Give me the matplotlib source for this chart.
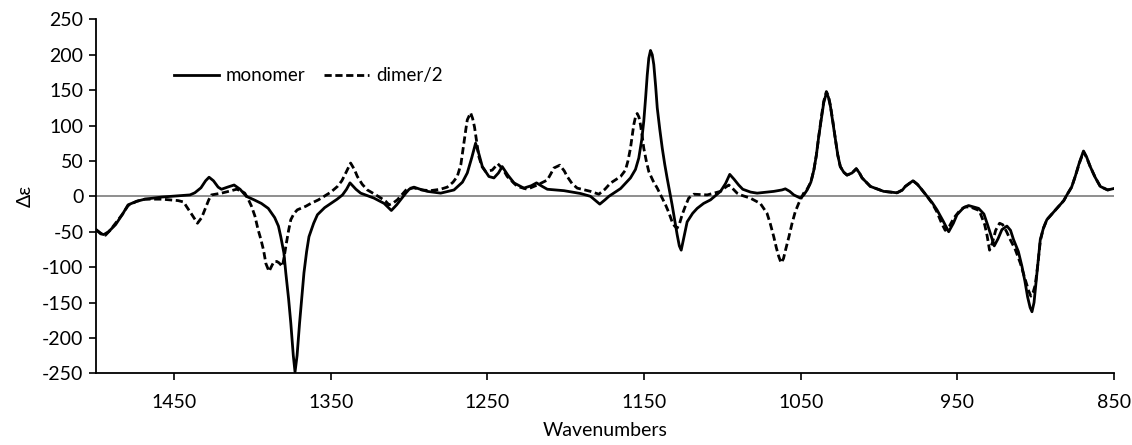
import matplotlib.pyplot as plt
from matplotlib.lines import Line2D

# monomer spectrum (wavenumber, delta epsilon)
mono_x = [1500, 1497, 1495, 1492, 1487.5, 1483, 1479.5, 1474, 1468.8, 1458, 1447.6, 1440, 1436.9, 1433, 1430,
          1427.8, 1425, 1422, 1419.9, 1416, 1411.8, 1408, 1404, 1399, 1394.4, 1390, 1385.9, 1383.5, 1382, 1380,
          1378.8, 1377, 1375.6, 1374, 1372.9, 1371.6, 1370, 1368.5, 1367.2, 1365.5, 1364, 1361, 1358.6, 1354,
          1350, 1346, 1342.6, 1340, 1337.8, 1334, 1331, 1322.5, 1316, 1311.4, 1308, 1305.5, 1302, 1300, 1297,
          1293, 1288.4, 1279.9, 1271.4, 1266, 1262.9, 1260, 1257.6, 1255.5, 1253.3, 1249.1, 1245.9, 1243, 1240.6,
          1237, 1233.1, 1226.8, 1222, 1218.7, 1215, 1211.8, 1201.2, 1190.6, 1184.2, 1181, 1178.3, 1175, 1172.5,
          1165, 1158.7, 1155.5, 1153.4, 1151.5, 1150.2, 1149, 1148, 1147, 1145.9, 1144.8, 1143.8, 1142.6, 1141.6,
          1140, 1138.4, 1136.8, 1135.3, 1133.7, 1132.1, 1130.5, 1128.9, 1127.5, 1126.3, 1124.8, 1122.5, 1119,
          1116.1, 1112, 1107.6, 1101.2, 1098, 1095.3, 1092.5, 1089.6, 1087, 1082, 1077.8, 1067.2, 1062, 1059.8,
          1057, 1054.4, 1050.2, 1048, 1045.9, 1043.5, 1041.6, 1040, 1038.5, 1036.8, 1035.3, 1033.6, 1032.3, 1031,
          1029.4, 1027.8, 1026.3, 1024.7, 1022.5, 1020.4, 1017.2, 1014.5, 1012.5, 1010.8, 1005.5, 997, 988.5, 985,
          983.2, 978.3, 975.5, 973.6, 969.3, 966, 963, 959, 955.5, 952.5, 950.2, 946, 942.8, 936.4, 933, 931,
          928.5, 926.4, 924, 921.5, 918.3, 916, 914.1, 911, 908.7, 906.8, 905.1, 903.5, 902.3, 901, 900.2, 898.5,
          897, 895, 892.8, 886.4, 882, 880, 877, 874.7, 872, 869.4, 867.5, 865.1, 862, 858.7, 854, 850]
mono_y = [-47, -53, -54, -50, -40, -25, -12, -7, -4, -1, 0.7, 2, 5, 12, 22,
          27, 22, 13, 10, 13, 16, 10, 0, -5, -10, -17, -30, -42, -57, -80,
          -108, -145, -179, -225, -248, -225, -179, -140, -108, -78, -57, -38, -26, -16,
          -10, -4, 2, 10, 19, 10, 4.5, -2.5, -10, -20, -12, -5, 5, 10, 13,
          10, 7, 4.5, 9, 20, 33, 55, 75, 60, 42, 28, 26, 33, 42,
          30, 19, 11.6, 15, 19, 14, 10, 8, 4, 0, -6, -11, -5, 0,
          11, 26, 38, 54, 80, 106, 140, 171, 195, 206, 200, 186, 155, 125,
          95, 68, 45, 26, 7, -12, -33, -54, -70, -76, -60, -36, -24,
          -17, -10, -5, 7, 18, 31, 24, 16, 10, 6, 4.5, 7, 9, 10.6,
          7, 2, -2.5, 2, 9, 20, 37, 58, 84, 110, 132, 146, 140, 127,
          104, 80, 58, 42, 34, 30, 33, 39, 33, 26, 14, 7, 5, 9,
          14, 22, 17, 12, 0, -9, -19, -35, -50, -38, -26, -16, -13, -17, -25, -38,
          -55, -70, -60, -47, -42, -48, -61, -78, -99, -120, -142, -157, -163, -150, -132, -95,
          -61, -45, -33, -17, -6, 2, 13, 28, 48, 64, 56, 42, 27, 14, 9, 11]

# dimer/2 spectrum
dim_x = [1500, 1497, 1494, 1491, 1487.5, 1483, 1479.5, 1474, 1468.8, 1458, 1447.6, 1444, 1442.3, 1439, 1435.2,
         1432.5, 1430.5, 1428, 1426.3, 1419.9, 1413.5, 1410.3, 1407.5, 1405, 1403, 1400.7, 1398.5, 1396.5,
         1394.8, 1393, 1391.5, 1389.5, 1387.5, 1386.3, 1384.5, 1383.1, 1381, 1379.8, 1378.8, 1377, 1375.6,
         1373.5, 1371.4, 1366, 1362.8, 1358, 1354.3, 1350, 1345.8, 1343, 1340.5, 1337.4, 1335, 1333.1, 1330,
         1326.7, 1322, 1318, 1315, 1312.9, 1310, 1307.6, 1304, 1301.2, 1297, 1292, 1286.5, 1280, 1275.7, 1272,
         1269.3, 1267, 1265.1, 1263.8, 1262.9, 1260.8, 1259.5, 1258.3, 1257, 1255.5, 1253.5, 1251.2, 1247,
         1243.4, 1240, 1237.4, 1231, 1224.6, 1218.2, 1211.8, 1209.5, 1207.6, 1203.8, 1201, 1199.1, 1196,
         1192.7, 1184.2, 1178.9, 1175, 1171.5, 1165, 1161.9, 1160.3, 1158.7, 1157.6, 1156.6, 1155.5, 1154.4,
         1153.3, 1152.3, 1151.2, 1150.2, 1148.6, 1147, 1144.3, 1141.6, 1139, 1136.3, 1134.2, 1132.1, 1130.5,
         1128.9, 1127.3, 1125.7, 1123.5, 1121.5, 1118.3, 1109.7, 1101.2, 1098.5, 1095.9, 1093, 1090.6, 1088.5,
         1082.2, 1075.8, 1071.5, 1069.5, 1067.2, 1065.5, 1064, 1062.5, 1061, 1059.7, 1057.5, 1055.5, 1053.5,
         1051.3, 1048.1, 1045.9, 1043.5, 1041.6, 1040, 1038.5, 1036.8, 1035.3, 1033.6, 1032.3, 1031, 1029.4,
         1027.8, 1026.3, 1024.7, 1022.5, 1020.4, 1017.2, 1014.5, 1012.5, 1010.8, 1005.5, 997, 988.5, 985,
         983.2, 978.3, 975.5, 973.6, 969.3, 966, 963, 960, 957.7, 955, 952, 948, 945, 941.7, 936, 932.5, 931,
         929.4, 927.5, 925.5, 923, 921, 918.5, 916.2, 913, 909.8, 906.5, 904.5, 903, 901.5, 900.2, 898.5, 897,
         895, 892.8, 886.4, 882, 880, 877, 874.7, 872, 869.4, 867.5, 865.1, 862, 858.7, 854, 850]
dim_y = [-47, -52, -55, -48, -38, -25, -13, -7, -4, -4, -6, -8, -14, -25, -38,
         -30, -19, -5, 2, 4.5, 8, 10, 8, 4.5, -3, -14, -28, -47,
         -60, -76, -95, -106, -97, -92, -92, -94, -99, -85, -71, -48, -33,
         -24, -19, -14, -10, -5, 0, 6, 14, 22, 33, 47, 38, 28, 17,
         9, 3, -2.5, -7, -12, -9, -5, 4, 11, 12, 9, 8, 10, 13, 20,
         28, 45, 75, 95, 108, 118, 110, 98, 78, 56, 42, 35, 37,
         46, 38, 28, 14, 10, 16, 23, 32, 40, 44, 36, 28, 18,
         11.6, 7, 3, 10, 18.6, 28, 37, 50, 68, 85, 101, 112, 117,
         112, 101, 85, 68, 50, 35, 22, 11.6, 0, -12, -23, -36, -42,
         -45, -38, -26, -13, -2.5, 3, 2, 7, 12, 16, 10, 4.5, 2,
         -2.5, -10, -24, -38, -57, -73, -85, -94, -88, -76, -57, -38, -22,
         -10, 4.5, 10, 20, 37, 58, 84, 112, 134, 148, 142, 128, 105,
         80, 58, 42, 34, 30, 33, 39, 33, 26, 14, 7, 5, 9,
         14, 22, 17, 12, 0, -10, -22, -38, -48, -42, -30, -19, -15, -15, -20, -40, -55,
         -76, -65, -48, -38, -40, -50, -61, -75, -94, -118, -133, -141, -135, -125, -95, -63,
         -45, -33, -17, -6, 2, 13, 28, 47, 63, 55, 42, 27, 14, 9, 11]

x_ticks = [1450, 1350, 1250, 1150, 1050, 950, 850]
y_ticks = [250, 200, 150, 100, 50, 0, -50, -100, -150, -200, -250]

plt.rcParams['font.family'] = ['Lato', 'DejaVu Sans']
plt.rcParams['axes.unicode_minus'] = False

fig = plt.figure(figsize=(11.32, 4.45), dpi=100)
ax = fig.add_axes([0.0848, 0.161, 0.8992, 0.7956])

ax.axhline(0, color='#868686', lw=1.3, zorder=1)
ax.plot(mono_x, mono_y, color='black', lw=2.0, solid_joinstyle='round', zorder=3)
ax.plot(dim_x, dim_y, color='black', lw=2.0, dashes=(2.6, 1.3), zorder=2)

ax.set_xlim(1500, 850)
ax.set_ylim(-250, 250)
ax.set_xticks(x_ticks)
ax.set_yticks(y_ticks)
ax.tick_params(direction='out', length=5, width=1.2, labelsize=14, pad=4)
ax.tick_params(axis='x', pad=10)
for s in ['top', 'right']:
    ax.spines[s].set_visible(False)
for s in ['left', 'bottom']:
    ax.spines[s].set_linewidth(1.3)

ax.set_ylabel('Δε', fontsize=14, labelpad=6)
ax.set_xlabel('Wavenumbers', fontsize=14, labelpad=8)

handles = [Line2D([], [], color='black', lw=2.0),
           Line2D([], [], color='black', lw=2.0, dashes=(2.6, 1.3))]
ax.legend(handles, ['monomer', 'dimer/2'], ncol=2, frameon=False, fontsize=13.5,
          loc='center left', bbox_to_anchor=(0.077, 0.84), borderpad=0, borderaxespad=0,
          handlelength=2.4, handletextpad=0.35, columnspacing=1.0)

fig.savefig('out.png', dpi=100)
